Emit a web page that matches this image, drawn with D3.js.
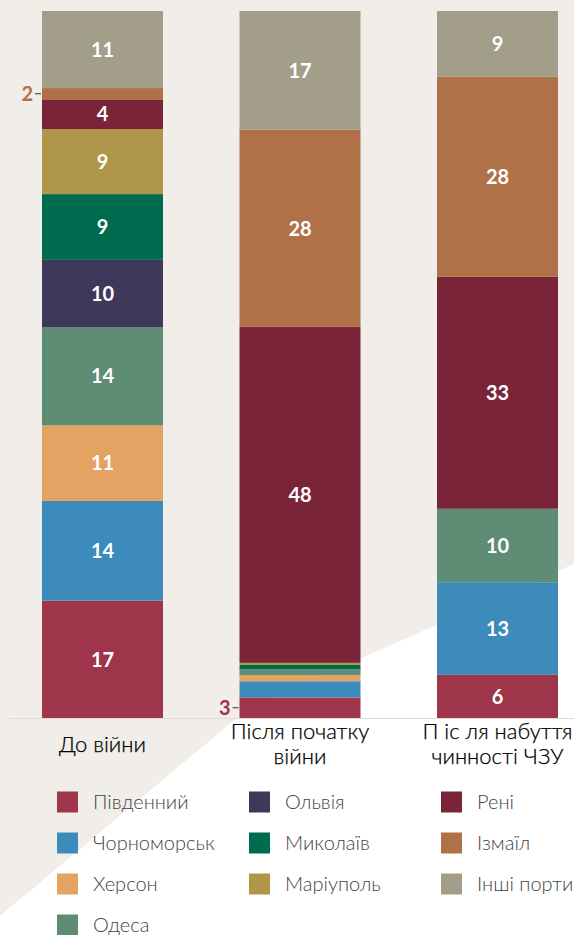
<!DOCTYPE html>
<html><head><meta charset="utf-8">
<script src="https://cdn.jsdelivr.net/npm/d3@7"></script>
<style>
html,body{margin:0;padding:0;background:#fff;}
svg{display:block;font-family:Lato,"Noto Sans",sans-serif;}
</style></head>
<body>
<svg id="c" width="574" height="935"></svg>
<script>
// ---- data ----
const categories = ["До війни", "Після початку війни", "П іс ля набуття чинності ЧЗУ"];
const categoryLines = [["До війни"], ["Після початку", "війни"], ["П іс ля набуття", "чинності ЧЗУ"]];
const ports = ["Південний","Чорноморськ","Херсон","Одеса","Ольвія","Миколаїв","Маріуполь","Рені","Ізмаїл","Інші порти"];
const colors = ["#9e354a","#3d8bbb","#e4a263","#5e8c74","#3e385a","#006c4f","#b09648","#7a2439","#b07148","#a39e8a"];
const pivdennyi   = [16.6, 2.9, 6.1];
const chornomorsk = [14.1, 2.3, 13.1];
const kherson     = [10.7, 0.85, 0];
const odesa       = [13.9, 0.85, 10.4];
const olviia      = [9.5, 0, 0];
const mykolaiv    = [9.3, 0.6, 0];
const mariupol    = [9.2, 0.3, 0];
const reni        = [4.2, 47.5, 32.8];
const izmail      = [1.6, 27.9, 28.3];
const inshi       = [10.9, 16.8, 9.3];
const seriesValues = [pivdennyi, chornomorsk, kherson, odesa, olviia, mykolaiv, mariupol, reni, izmail, inshi];
// outside labels: [category index, port index]
const outsideLabels = [[0, 8], [1, 0]];
const legendColumns = [[0,1,2,3],[4,5,6],[7,8,9]];

// ---- chart ----
const svg = d3.select("#c");
const W = 574, H = 935;
svg.append("rect").attr("width", W).attr("height", H).attr("fill", "#fff");
svg.append("path")
  .attr("d", d3.line()([[0,0],[W,0],[W,564],[249,708],[0,916]]) + "Z")
  .attr("fill", "#f1eeea");

const table = categories.map((c, i) => {
  const o = {cat: c, idx: i};
  ports.forEach((p, j) => o[p] = seriesValues[j][i]);
  return o;
});
const stack = d3.stack().keys(ports)(table);

const x = d3.scaleBand().domain(d3.range(categories.length)).range([42, 558]).paddingInner(0.3873).paddingOuter(0);
const y = d3.scaleLinear().domain([0, 100]).range([718, 11]);
const color = d3.scaleOrdinal().domain(ports).range(colors);

const g = svg.append("g");
stack.forEach(s => {
  g.selectAll(null).data(s).enter().append("rect")
    .attr("x", d => x(d.data.idx))
    .attr("width", x.bandwidth())
    .attr("y", d => y(d[1]))
    .attr("height", d => Math.max(0, y(d[0]) - y(d[1])))
    .attr("fill", color(s.key));
});
// inside labels
stack.forEach(s => {
  g.selectAll(null).data(s.filter(d => (d[1]-d[0]) >= 4)).enter().append("text")
    .attr("x", d => x(d.data.idx) + x.bandwidth()/2)
    .attr("y", d => y((d[0]+d[1])/2))
    .attr("dy", "0.36em")
    .attr("text-anchor", "middle")
    .attr("fill", "#fff")
    .attr("font-weight", 700)
    .attr("font-size", 20)
    .text(d => Math.round(d[1]-d[0]));
});
// outside labels
outsideLabels.forEach(([ci, pi]) => {
  const s = stack[pi][ci];
  const yy = y((s[0]+s[1])/2);
  const x0 = x(ci);
  g.append("line").attr("x1", x0-7).attr("x2", x0-1).attr("y1", yy).attr("y2", yy)
    .attr("stroke", "#333").attr("stroke-width", 1);
  g.append("text").attr("x", x0-9).attr("y", yy).attr("dy", "0.36em")
    .attr("text-anchor", "end").attr("font-weight", 700).attr("font-size", 20)
    .attr("fill", colors[pi]).text(Math.round(s[1]-s[0]));
});
// baseline
svg.append("line").attr("x1", 9).attr("x2", 574).attr("y1", 718.5).attr("y2", 718.5)
  .attr("stroke", "#dcdcdc").attr("stroke-width", 1);

// category labels
categoryLines.forEach((lines, i) => {
  const cx = x(i) + x.bandwidth()/2;
  const t = svg.append("text").attr("text-anchor", "middle").attr("font-size", 22)
    .attr("font-weight", 300).attr("fill", "#000").attr("stroke", "#000").attr("stroke-width", 0.25);
  const base = lines.length === 1 ? 752 : 739;
  lines.forEach((l, k) => t.append("tspan").attr("x", cx).attr("y", base + k*24.5).text(l));
});

// legend
const colX = [57, 249, 441];
legendColumns.forEach((col, ci) => {
  col.forEach((pi, ri) => {
    const yy = 802 + ri*41;
    svg.append("rect").attr("x", colX[ci]).attr("y", yy-10.5).attr("width", 21).attr("height", 21).attr("fill", colors[pi]);
    svg.append("text").attr("x", colX[ci]+36).attr("y", yy).attr("dy", "0.36em")
      .attr("font-size", 20).attr("font-weight", 300).attr("fill", "#444").text(ports[pi]);
  });
});
</script>
</body></html>
